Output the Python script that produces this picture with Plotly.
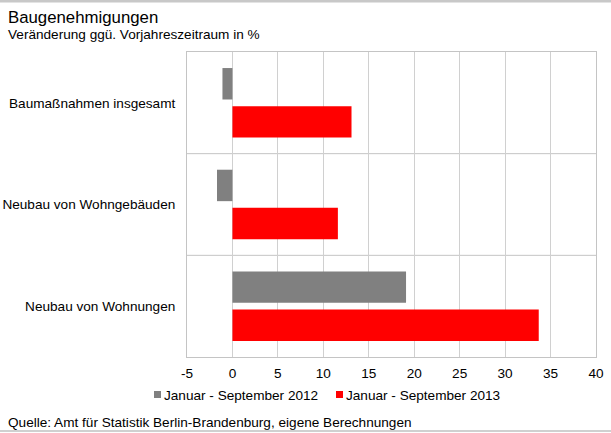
import plotly.graph_objects as go

# Data
categories = ["Baumaßnahmen insgesamt", "Neubau von Wohngebäuden", "Neubau von Wohnungen"]
series_names = ["Januar - September 2012", "Januar - September 2013"]
values_2012 = [-1.1, -1.7, 19.1]
values_2013 = [13.1, 11.6, 33.7]
x_ticks = [-5, 0, 5, 10, 15, 20, 25, 30, 35, 40]

title_text = "Baugenehmigungen"
subtitle_text = "Veränderung ggü. Vorjahreszeitraum in %"
source_text = "Quelle: Amt für Statistik Berlin-Brandenburg, eigene Berechnungen"

# Layout geometry (pixels)
W, H = 611, 433
ML, MR, MT, MB = 187, 15, 52, 76
PW, PH = W - ML - MR, H - MT - MB

FONT = "Liberation Sans, Arial, sans-serif"
TXT = 13.6
GRAY = "#808080"
RED = "#ff0000"
GRID = "#d0d0d0"
FRAME = "#c4c4c4"


def px_x(x):
    return (x - ML) / PW


def px_y(y):
    return (H - MB - y) / PH


fig = go.Figure()
colors = [GRAY, RED]
for name, vals, col in zip(series_names, [values_2012, values_2013], colors):
    fig.add_trace(go.Bar(
        y=categories, x=vals, name=name, orientation="h",
        marker=dict(color=col, line=dict(width=0)),
        showlegend=False,
    ))

shapes = []
# separators between category bands
for i in range(len(categories) - 1):
    shapes.append(dict(type="line", xref="paper", yref="y", x0=0, x1=1,
                       y0=i + 0.5, y1=i + 0.5, line=dict(color=FRAME, width=1),
                       layer="below"))
# rules at the top and bottom of the page
shapes.append(dict(type="line", xref="paper", yref="paper",
                   x0=px_x(0), x1=px_x(W), y0=px_y(1), y1=px_y(1),
                   line=dict(color="#c8c8c8", width=3)))
shapes.append(dict(type="line", xref="paper", yref="paper",
                   x0=px_x(0), x1=px_x(W), y0=px_y(431), y1=px_y(431),
                   line=dict(color="#d0d0d0", width=2)))

annotations = [
    dict(text=title_text, x=px_x(6), y=px_y(17), xref="paper", yref="paper",
         xanchor="left", yanchor="middle", showarrow=False,
         font=dict(size=16.8, color="#000", family=FONT)),
    dict(text=subtitle_text, x=px_x(6), y=px_y(34), xref="paper", yref="paper",
         xanchor="left", yanchor="middle", showarrow=False,
         font=dict(size=TXT, color="#000", family=FONT)),
    dict(text=source_text, x=px_x(6), y=px_y(422), xref="paper", yref="paper",
         xanchor="left", yanchor="middle", showarrow=False,
         font=dict(size=TXT, color="#000", family=FONT)),
]

# legend: small square swatch followed by the series name
legend_x = [154, 336]
for name, col, lx in zip(series_names, colors, legend_x):
    shapes.append(dict(type="rect", xref="paper", yref="paper",
                       x0=px_x(lx), x1=px_x(lx + 7), y0=px_y(398), y1=px_y(391),
                       fillcolor=col, line=dict(width=0)))
    annotations.append(dict(text=name, x=px_x(lx + 8), y=px_y(395),
                            xref="paper", yref="paper", xanchor="left",
                            yanchor="middle", showarrow=False,
                            font=dict(size=TXT, color="#000", family=FONT)))

fig.update_layout(
    width=W, height=H,
    margin=dict(l=ML, r=MR, t=MT, b=MB, pad=0, autoexpand=False),
    paper_bgcolor="white", plot_bgcolor="white",
    barmode="group", bargap=0.25, bargroupgap=0.175,
    font=dict(family=FONT, size=TXT, color="#000"),
    shapes=shapes, annotations=annotations,
    showlegend=False,
)
fig.update_xaxes(
    automargin=False,
    range=[-5, 40], tickvals=x_ticks, ticktext=[str(t) for t in x_ticks],
    showgrid=True, gridcolor=GRID, gridwidth=1,
    zeroline=True, zerolinecolor=GRID, zerolinewidth=1,
    showline=True, linecolor=FRAME, linewidth=1, mirror=True,
    ticks="outside", ticklen=4, tickcolor="rgba(0,0,0,0)",
    tickfont=dict(size=TXT, color="#000", family=FONT),
)
fig.update_yaxes(
    automargin=False,
    categoryorder="array", categoryarray=categories, autorange="reversed",
    showgrid=False, showline=True, linecolor=FRAME, linewidth=1, mirror=True,
    ticks="outside", ticklen=8, tickcolor="rgba(0,0,0,0)",
    tickfont=dict(size=TXT, color="#000", family=FONT),
)

fig.write_html("out.html")
